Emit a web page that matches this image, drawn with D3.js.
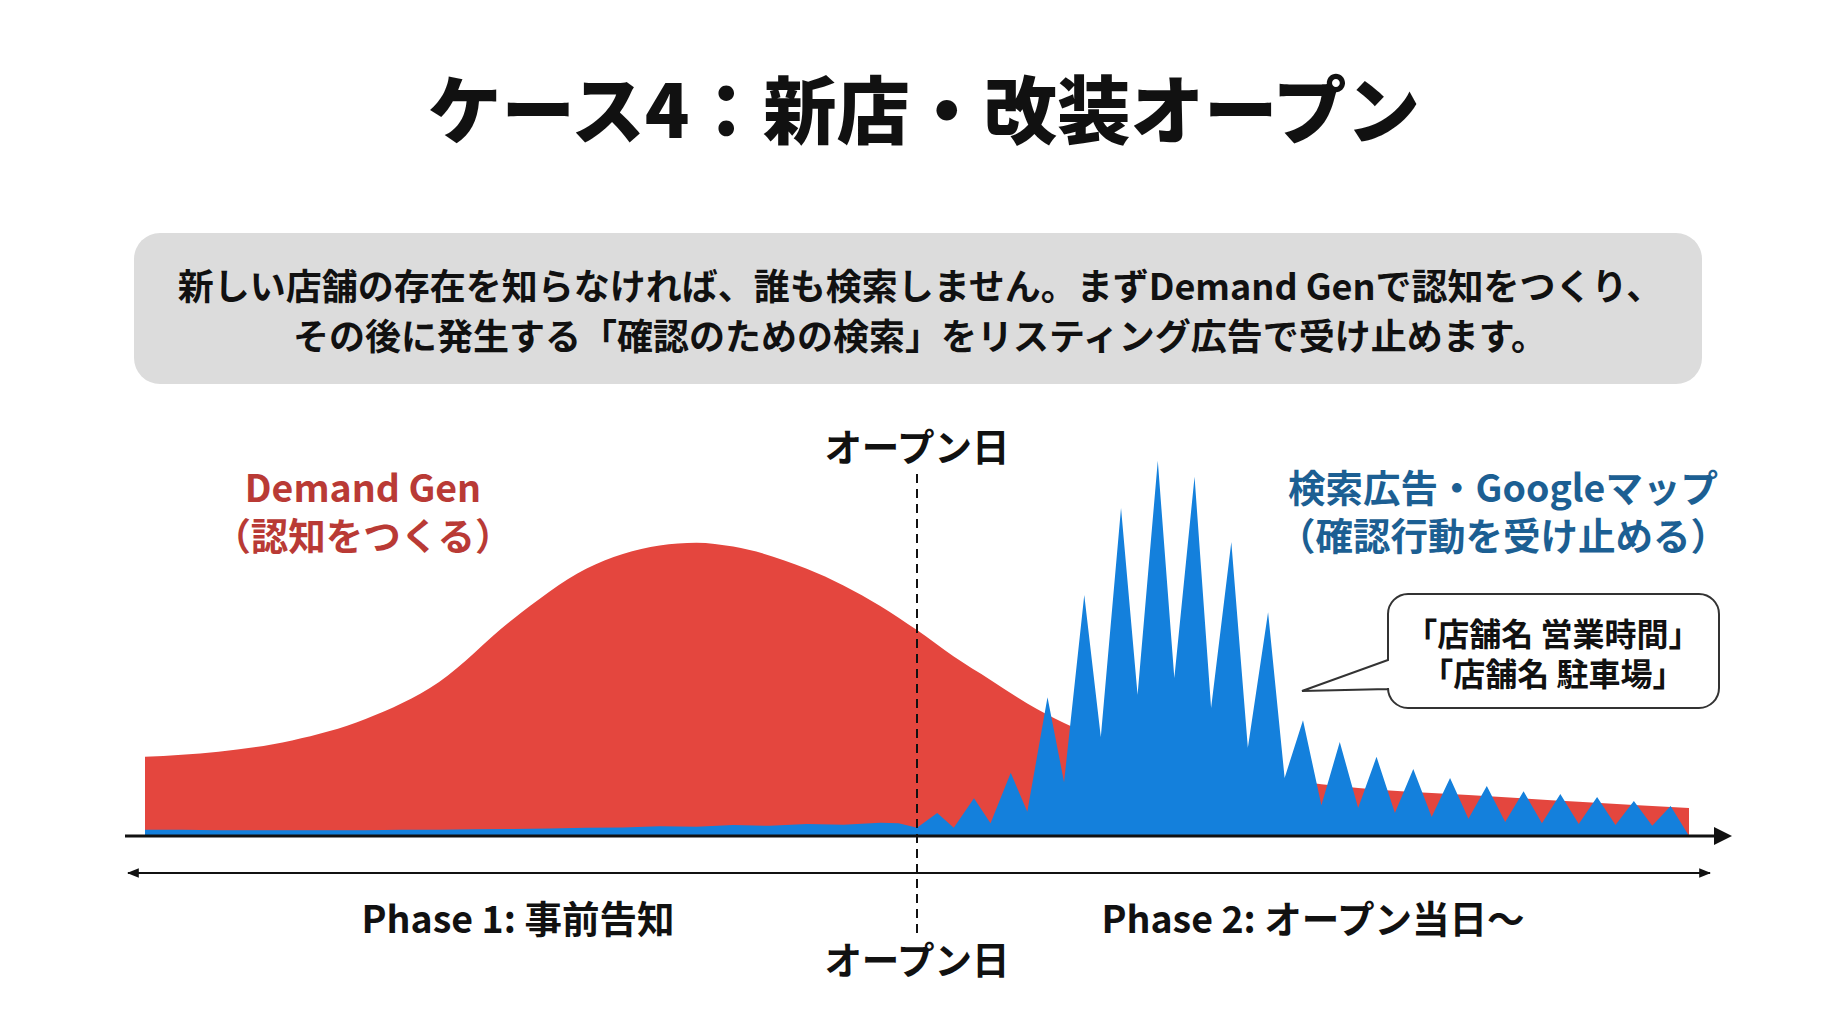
<!DOCTYPE html>
<html><head><meta charset="utf-8">
<script src="https://cdn.jsdelivr.net/npm/d3@7"></script>
<style>
html,body{margin:0;padding:0;background:#fff;}
svg{display:block;}
text{font-family:"Noto Sans CJK JP","Noto Sans",sans-serif;}
</style></head>
<body>
<svg id="chart" width="1834" height="1024"></svg>
<script>
// ---- data ----
const titleText = "ケース4：新店・改装オープン";
const descLines = [
  "新しい店舗の存在を知らなければ、誰も検索しません。まずDemand Genで認知をつくり、",
  "その後に発生する「確認のための検索」をリスティング広告で受け止めます。"
];
const redLabel = ["Demand Gen", "（認知をつくる）"];
const blueLabel = ["検索広告・Googleマップ", "（確認行動を受け止める）"];
const calloutLines = ["「店舗名 営業時間」", "「店舗名 駐車場」"];
const openLabel = "オープン日";
const phaseLabels = ["Phase 1: 事前告知", "Phase 2: オープン当日〜"];

// Demand Gen (awareness) curve: day relative to opening, value
const redDays = [-21, -19, -17, -15, -13, -11, -9, -7, -6, -5, -3, -1, 0, 1, 2, 3, 4, 6, 8, 10, 12, 15, 18, 21];
const redVals = [20.3, 21.6, 24.5, 30, 39.5, 55.5, 68.5, 74.5, 75.2, 74.2, 68.5, 59, 52.8, 46, 40, 34, 29, 22, 17.5, 14.5, 12.3, 10.5, 8.8, 7.2];

// Search / Maps (confirmation) series: before opening
const bluePreDays = [-21, -20, -19, -18, -17, -16, -15, -14, -13, -12, -11, -10, -9, -8, -7, -6, -5, -4, -3, -2, -1, -0.5];
const bluePreVals = [1.6, 1.6, 1.5, 1.5, 1.5, 1.5, 1.5, 1.6, 1.6, 1.7, 1.8, 1.9, 2.1, 2.2, 2.5, 2.4, 2.8, 2.6, 3.1, 2.9, 3.4, 3.3];
// after opening (daily spikes)
const bluePostDays = [0, 0.55, 1, 1.55, 2, 2.55, 3, 3.55, 4, 4.55, 5, 5.55, 6, 6.55, 7, 7.55, 8, 8.55, 9, 9.55, 10, 10.5, 11, 11.5, 12, 12.5, 13, 13.5, 14, 14.5, 15, 15.5, 16, 16.5, 17, 17.5, 18, 18.5, 19, 19.5, 20, 20.5, 21];
const bluePostVals = [2.1, 5.9, 2.1, 9.7, 3.3, 16.2, 6.2, 35.6, 13.8, 61.8, 25.4, 84.1, 36.2, 96.2, 40.5, 92.1, 32.8, 75.4, 22.6, 57.4, 14.9, 29.7, 7.9, 24.1, 7.2, 20.3, 5.9, 17.2, 4.9, 14.9, 4.4, 12.8, 3.6, 11.5, 3.3, 10.8, 3.1, 10.0, 2.8, 9.0, 2.6, 7.7, 0];

// ---- drawing ----
const svg = d3.select("#chart");
const W = 1834;
const x = d3.scaleLinear().domain([-21, 21]).range([145, 1689]);
const y = d3.scaleLinear().domain([0, 100]).range([836, 446]);

// title
svg.append("text").attr("x", W/2 + 7).attr("y", 106)
  .attr("text-anchor","middle").attr("dominant-baseline","central")
  .attr("font-size", 73.5).attr("font-weight", 900).attr("fill","#111")
  .text(titleText);

// description box
svg.append("rect").attr("x",134).attr("y",233).attr("width",1568).attr("height",151)
  .attr("rx",26).attr("fill","#dcdcdc");
const desc = svg.append("text").attr("text-anchor","middle")
  .attr("font-size", 36).attr("font-weight", 700).attr("fill","#111");
descLines.forEach((t,i)=>{
  desc.append("tspan").attr("x", W/2 + 3).attr("y", 284 + i*50)
    .attr("dominant-baseline","central").text(t);
});

// areas
const redData = redDays.map((d,i)=>({d, v: redVals[i]}));
const blueData = bluePreDays.map((d,i)=>({d, v: bluePreVals[i]}))
  .concat(bluePostDays.map((d,i)=>({d, v: bluePostVals[i]})));

const redArea = d3.area().x(p=>x(p.d)).y0(y(0)).y1(p=>y(p.v)).curve(d3.curveMonotoneX);
const blueArea = d3.area().x(p=>x(p.d)).y0(y(0)).y1(p=>y(p.v)).curve(d3.curveLinear);

svg.append("path").datum(redData).attr("d", redArea).attr("fill","#e4463e");
svg.append("path").datum(blueData).attr("d", blueArea).attr("fill","#1480dc");

// markers
const defs = svg.append("defs");
defs.append("marker").attr("id","arrowBig").attr("viewBox","0 0 10 10")
  .attr("refX",0).attr("refY",5).attr("markerWidth",6).attr("markerHeight",6)
  .attr("markerUnits","strokeWidth").attr("orient","auto")
  .append("path").attr("d","M0,0 L10,5 L0,10 z").attr("fill","#111");
defs.append("marker").attr("id","arrowSmall").attr("viewBox","0 0 10 10")
  .attr("refX",9).attr("refY",5).attr("markerWidth",6).attr("markerHeight",6)
  .attr("markerUnits","strokeWidth").attr("orient","auto-start-reverse")
  .append("path").attr("d","M0,1 L10,5 L0,9 z").attr("fill","#111");

// main time axis
const xAxisY = y(0);
svg.append("line").attr("x1",125).attr("x2",1714).attr("y1",xAxisY).attr("y2",xAxisY)
  .attr("stroke","#111").attr("stroke-width",3).attr("marker-end","url(#arrowBig)");

// phase double arrow
svg.append("line").attr("x1",128).attr("x2",1710).attr("y1",873).attr("y2",873)
  .attr("stroke","#111").attr("stroke-width",2)
  .attr("marker-start","url(#arrowSmall)").attr("marker-end","url(#arrowSmall)");

// opening day dashed line
svg.append("line").attr("x1",x(0)).attr("x2",x(0)).attr("y1",474).attr("y2",936)
  .attr("stroke","#111").attr("stroke-width",2).attr("stroke-dasharray","9,6");

// opening day labels
[444, 957].forEach(yy=>{
  svg.append("text").attr("x", x(0)).attr("y", yy)
    .attr("text-anchor","middle").attr("dominant-baseline","central")
    .attr("font-size",37.5).attr("font-weight",700).attr("fill","#111").text(openLabel);
});

// phase labels
[[518, phaseLabels[0]], [1313, phaseLabels[1]]].forEach(([cx,t])=>{
  svg.append("text").attr("x", cx).attr("y", 916)
    .attr("text-anchor","middle").attr("dominant-baseline","central")
    .attr("font-size",37.5).attr("font-weight",700).attr("fill","#111").text(t);
});

// series labels
const rl = svg.append("text").attr("text-anchor","middle")
  .attr("font-size",37.5).attr("font-weight",700).attr("fill","#b93a35");
redLabel.forEach((t,i)=>{
  rl.append("tspan").attr("x", 363).attr("y", 485 + i*48)
    .attr("dominant-baseline","central").text(t);
});
const bl = svg.append("text").attr("text-anchor","middle")
  .attr("font-size",37.5).attr("font-weight",700).attr("fill","#1c5f93");
blueLabel.forEach((t,i)=>{
  bl.append("tspan").attr("x", 1503).attr("y", 485 + i*48)
    .attr("dominant-baseline","central").text(t);
});

// callout bubble
const bx0=1388, bx1=1719, by0=594, by1=708, r=20;
const bubble = d3.path();
bubble.moveTo(bx0+r, by0);
bubble.lineTo(bx1-r, by0);
bubble.arcTo(bx1, by0, bx1, by0+r, r);
bubble.lineTo(bx1, by1-r);
bubble.arcTo(bx1, by1, bx1-r, by1, r);
bubble.lineTo(bx0+r, by1);
bubble.arcTo(bx0, by1, bx0, by1-r, r);
bubble.lineTo(bx0, 689);
bubble.lineTo(1302, 691);
bubble.lineTo(bx0, 660);
bubble.lineTo(bx0, by0+r);
bubble.arcTo(bx0, by0, bx0+r, by0, r);
bubble.closePath();
svg.append("path").attr("d", bubble.toString()).attr("fill","#fff")
  .attr("stroke","#333").attr("stroke-width",2);
const cl = svg.append("text").attr("text-anchor","middle")
  .attr("font-size",32).attr("font-weight",700).attr("fill","#111");
calloutLines.forEach((t,i)=>{
  cl.append("tspan").attr("x", 1553).attr("y", 632 + i*40)
    .attr("dominant-baseline","central").text(t);
});
</script>
</body></html>
